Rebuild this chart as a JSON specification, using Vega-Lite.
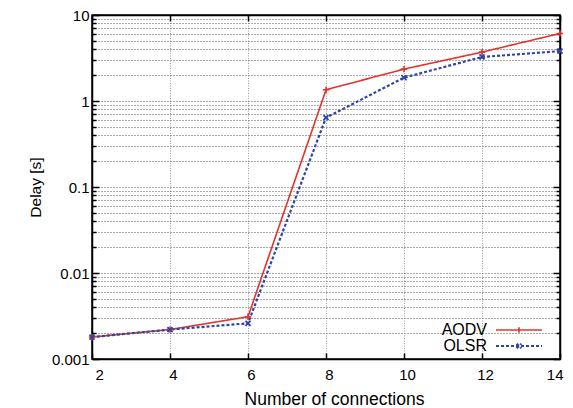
{
  "$schema": "https://vega.github.io/schema/vega-lite/v6.json",
  "width": 468,
  "height": 344,
  "autosize": {"type": "none"},
  "padding": {"left": 92, "top": 15, "right": 13, "bottom": 49},
  "background": "white",
  "config": {
    "font": "Liberation Sans",
    "view": {"stroke": "black", "strokeWidth": 1.5},
    "axis": {
      "domainColor": "black",
      "domainWidth": 1.5,
      "tickColor": "black",
      "tickWidth": 1.5,
      "labelColor": "black",
      "labelFontSize": 15,
      "titleColor": "black",
      "titleFontSize": 15.5,
      "titleFontWeight": "normal"
    }
  },
  "data": {
    "values": [
      {"connections": 2, "protocol": "AODV", "delay": 0.0018},
      {"connections": 4, "protocol": "AODV", "delay": 0.0022},
      {"connections": 6, "protocol": "AODV", "delay": 0.0031},
      {"connections": 8, "protocol": "AODV", "delay": 1.35},
      {"connections": 10, "protocol": "AODV", "delay": 2.35},
      {"connections": 12, "protocol": "AODV", "delay": 3.7},
      {"connections": 14, "protocol": "AODV", "delay": 6.1},
      {"connections": 2, "protocol": "OLSR", "delay": 0.0018},
      {"connections": 4, "protocol": "OLSR", "delay": 0.0022},
      {"connections": 6, "protocol": "OLSR", "delay": 0.0026},
      {"connections": 8, "protocol": "OLSR", "delay": 0.64},
      {"connections": 10, "protocol": "OLSR", "delay": 1.87},
      {"connections": 12, "protocol": "OLSR", "delay": 3.25},
      {"connections": 14, "protocol": "OLSR", "delay": 3.8}
    ]
  },
  "layer": [
    {
      "mark": {"type": "line", "clip": true},
      "encoding": {
        "x": {
          "field": "connections", "type": "quantitative",
          "scale": {"domain": [2, 14], "nice": false, "zero": false},
          "axis": {
            "title": "Number of connections",
            "titleFontSize": 17.5,
            "titleX": 242,
            "values": [2, 4, 6, 8, 10, 12, 14],
            "grid": true, "gridColor": "#9a9a9a", "gridDash": [1, 1.5], "gridWidth": 1,
            "tickSize": -6, "labelPadding": 14, "labelOffset": 3, "titlePadding": 8
          }
        },
        "y": {
          "field": "delay", "type": "quantitative",
          "scale": {"type": "log", "domain": [0.001, 10], "nice": false},
          "axis": {
            "title": "Delay [s]",
            "values": [0.001, 0.002, 0.003, 0.004, 0.005, 0.006, 0.007, 0.008, 0.009,
                       0.01, 0.02, 0.03, 0.04, 0.05, 0.06, 0.07, 0.08, 0.09,
                       0.1, 0.2, 0.3, 0.4, 0.5, 0.6, 0.7, 0.8, 0.9,
                       1, 2, 3, 4, 5, 6, 7, 8, 9, 10],
            "labelExpr": "abs(log(datum.value)/LN10 - round(log(datum.value)/LN10)) < 0.001 ? format(datum.value, '~g') : ''",
            "grid": true, "gridColor": "#555555", "gridDash": [1, 2], "gridWidth": 1,
            "tickSize": {"condition": {"test": "abs(log(datum.value)/LN10 - round(log(datum.value)/LN10)) < 0.001", "value": -7}, "value": -4},
            "labelPadding": 10, "titlePadding": 8
          }
        },
        "color": {
          "field": "protocol", "type": "nominal",
          "scale": {"domain": ["AODV", "OLSR"], "range": ["#e0342c", "#2f45a6"]},
          "legend": {
            "title": null,
            "orient": "none",
            "legendX": 419,
            "legendY": 307,
            "padding": 0,
            "symbolType": "stroke",
            "symbolSize": 132,
            "symbolStrokeWidth": 2,
            "labelAlign": "right",
            "labelOffset": -40,
            "labelFontSize": 16,
            "labelColor": "black",
            "rowPadding": 0,
            "encode": {
              "symbols": {
                "update": {
                  "shape": {"signal": "datum.value === 'AODV' ? 'M-4,0L4,0M0,-0.48L0,0.48M-0.48,0L0.48,0' : 'M-4,0L4,0M-0.4,-0.4L0.4,0.4M-0.4,0.4L0.4,-0.4'"}
                }
              }
            }
          }
        },
        "strokeDash": {
          "field": "protocol", "type": "nominal",
          "scale": {"domain": ["AODV", "OLSR"], "range": [[1, 0], [3, 2]]}
        },
        "strokeWidth": {
          "field": "protocol", "type": "nominal",
          "scale": {"domain": ["AODV", "OLSR"], "range": [1.6, 2.2]},
          "legend": null
        }
      }
    },
    {
      "transform": [{"filter": "datum.protocol === 'AODV'"}],
      "mark": {"type": "point", "filled": false, "strokeWidth": 1.6, "size": 40, "opacity": 1, "color": "#e0342c", "shape": "M-1,0L1,0M0,-1L0,1"},
      "encoding": {
        "x": {
          "field": "connections", "type": "quantitative",
          "scale": {"domain": [2, 14], "nice": false, "zero": false},
          "axis": {
            "orient": "top", "title": null, "labels": false, "grid": false,
            "values": [2, 4, 6, 8, 10, 12, 14], "tickSize": -6
          }
        },
        "y": {
          "field": "delay", "type": "quantitative",
          "scale": {"type": "log", "domain": [0.001, 10], "nice": false},
          "axis": {
            "orient": "right", "title": null, "labels": false, "grid": false,
            "values": [0.001, 0.002, 0.003, 0.004, 0.005, 0.006, 0.007, 0.008, 0.009,
                       0.01, 0.02, 0.03, 0.04, 0.05, 0.06, 0.07, 0.08, 0.09,
                       0.1, 0.2, 0.3, 0.4, 0.5, 0.6, 0.7, 0.8, 0.9,
                       1, 2, 3, 4, 5, 6, 7, 8, 9, 10],
            "tickSize": {"condition": {"test": "abs(log(datum.value)/LN10 - round(log(datum.value)/LN10)) < 0.001", "value": -7}, "value": -4}
          }
        }
      }
    },
    {
      "transform": [{"filter": "datum.protocol === 'OLSR'"}],
      "mark": {"type": "point", "filled": false, "strokeWidth": 1.8, "size": 40, "opacity": 1, "color": "#2f45a6", "shape": "M-0.8,-0.8L0.8,0.8M-0.8,0.8L0.8,-0.8"},
      "encoding": {
        "x": {
          "field": "connections", "type": "quantitative",
          "scale": {"domain": [2, 14], "nice": false, "zero": false},
          "axis": null
        },
        "y": {
          "field": "delay", "type": "quantitative",
          "scale": {"type": "log", "domain": [0.001, 10], "nice": false},
          "axis": null
        }
      }
    }
  ],
  "resolve": {"axis": {"x": "independent", "y": "independent"}}
}
